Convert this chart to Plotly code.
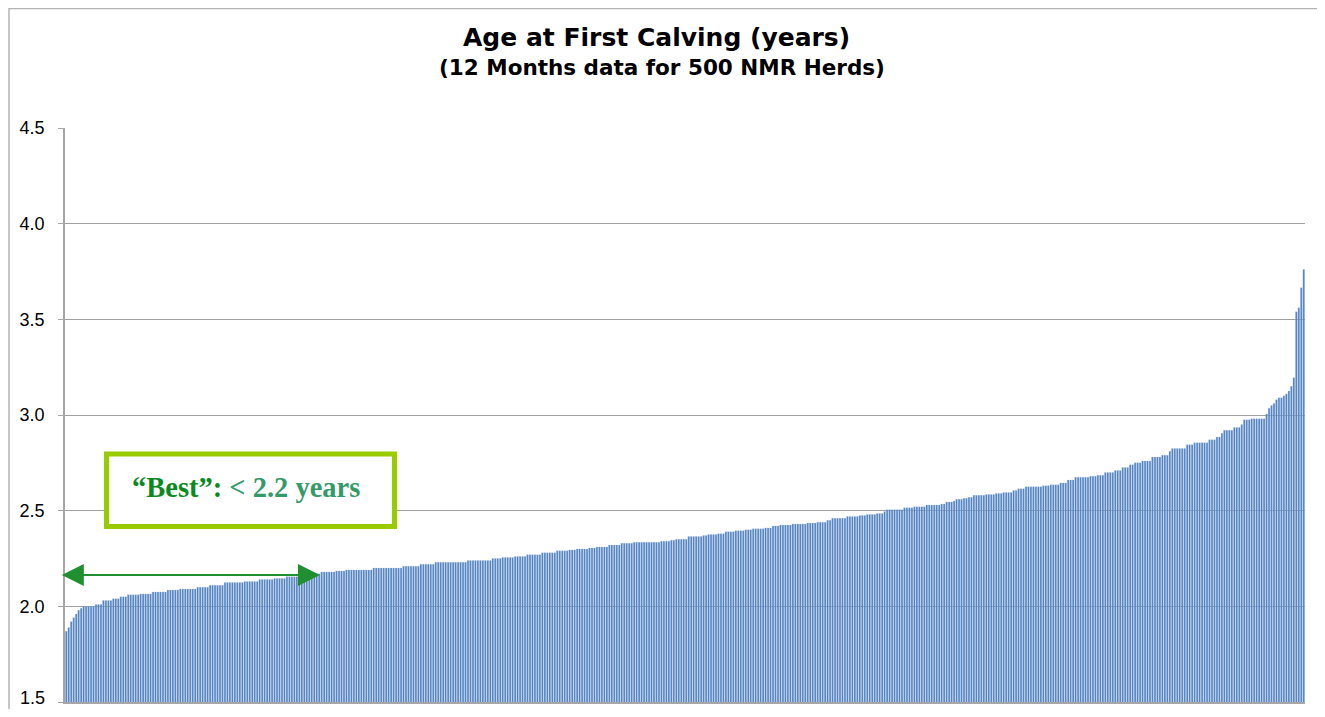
import plotly.graph_objects as go

# Age at first calving (years), 500 NMR herds, sorted ascending
ages = [
    1.87, 1.89, 1.92, 1.94, 1.96, 1.98, 1.99, 2.00, 2.00, 2.00,
    2.00, 2.00, 2.01, 2.01, 2.01, 2.03, 2.03, 2.03, 2.03, 2.04,
    2.04, 2.04, 2.05, 2.05, 2.05, 2.06, 2.06, 2.06, 2.06, 2.06,
    2.065, 2.065, 2.065, 2.065, 2.065, 2.075, 2.075, 2.075, 2.075, 2.075,
    2.075, 2.085, 2.085, 2.085, 2.085, 2.085, 2.09, 2.09, 2.09, 2.09,
    2.09, 2.09, 2.09, 2.10, 2.10, 2.10, 2.10, 2.10, 2.11, 2.11,
    2.11, 2.11, 2.11, 2.11, 2.125, 2.125, 2.125, 2.125, 2.125, 2.125,
    2.125, 2.125, 2.13, 2.13, 2.13, 2.13, 2.13, 2.13, 2.14, 2.14,
    2.14, 2.14, 2.14, 2.14, 2.145, 2.145, 2.145, 2.145, 2.145, 2.155,
    2.155, 2.155, 2.155, 2.155, 2.155, 2.155, 2.155, 2.155, 2.155, 2.17,
    2.17, 2.17, 2.17, 2.18, 2.18, 2.18, 2.18, 2.18, 2.18, 2.185,
    2.185, 2.185, 2.185, 2.19, 2.19, 2.19, 2.19, 2.19, 2.19, 2.19,
    2.19, 2.19, 2.19, 2.19, 2.20, 2.20, 2.20, 2.20, 2.20, 2.20,
    2.20, 2.20, 2.20, 2.20, 2.20, 2.20, 2.21, 2.21, 2.21, 2.21,
    2.21, 2.21, 2.21, 2.22, 2.22, 2.22, 2.22, 2.22, 2.22, 2.23,
    2.23, 2.23, 2.23, 2.23, 2.23, 2.23, 2.23, 2.23, 2.23, 2.23,
    2.23, 2.23, 2.24, 2.24, 2.24, 2.24, 2.24, 2.24, 2.24, 2.24,
    2.24, 2.24, 2.25, 2.25, 2.25, 2.25, 2.255, 2.255, 2.255, 2.255,
    2.255, 2.26, 2.26, 2.26, 2.26, 2.26, 2.27, 2.27, 2.27, 2.27,
    2.27, 2.27, 2.28, 2.28, 2.28, 2.28, 2.28, 2.28, 2.29, 2.29,
    2.29, 2.29, 2.29, 2.295, 2.295, 2.295, 2.30, 2.30, 2.30, 2.30,
    2.30, 2.305, 2.305, 2.305, 2.31, 2.31, 2.31, 2.31, 2.31, 2.32,
    2.32, 2.32, 2.32, 2.32, 2.33, 2.33, 2.33, 2.33, 2.33, 2.335,
    2.335, 2.335, 2.335, 2.335, 2.335, 2.335, 2.335, 2.335, 2.335, 2.335,
    2.34, 2.34, 2.34, 2.34, 2.345, 2.345, 2.35, 2.35, 2.35, 2.35,
    2.35, 2.365, 2.365, 2.365, 2.365, 2.365, 2.365, 2.37, 2.37, 2.375,
    2.375, 2.375, 2.375, 2.38, 2.38, 2.38, 2.39, 2.39, 2.39, 2.39,
    2.395, 2.395, 2.395, 2.395, 2.40, 2.40, 2.40, 2.405, 2.405, 2.405,
    2.405, 2.405, 2.41, 2.41, 2.41, 2.42, 2.42, 2.42, 2.425, 2.425,
    2.425, 2.425, 2.425, 2.43, 2.43, 2.43, 2.43, 2.43, 2.43, 2.435,
    2.435, 2.435, 2.435, 2.44, 2.44, 2.44, 2.44, 2.45, 2.45, 2.46,
    2.46, 2.46, 2.46, 2.46, 2.46, 2.47, 2.47, 2.47, 2.47, 2.47,
    2.475, 2.475, 2.475, 2.48, 2.48, 2.48, 2.48, 2.485, 2.485, 2.485,
    2.495, 2.505, 2.505, 2.505, 2.505, 2.505, 2.505, 2.505, 2.515, 2.515,
    2.515, 2.515, 2.52, 2.52, 2.52, 2.52, 2.52, 2.53, 2.53, 2.53,
    2.53, 2.53, 2.53, 2.535, 2.535, 2.545, 2.545, 2.545, 2.55, 2.56,
    2.56, 2.56, 2.565, 2.565, 2.57, 2.57, 2.58, 2.58, 2.58, 2.58,
    2.58, 2.585, 2.585, 2.585, 2.585, 2.59, 2.59, 2.59, 2.595, 2.595,
    2.595, 2.595, 2.605, 2.605, 2.615, 2.615, 2.615, 2.625, 2.625, 2.625,
    2.625, 2.625, 2.625, 2.625, 2.63, 2.63, 2.63, 2.635, 2.635, 2.635,
    2.635, 2.645, 2.645, 2.645, 2.66, 2.66, 2.66, 2.675, 2.675, 2.675,
    2.675, 2.675, 2.675, 2.68, 2.68, 2.68, 2.685, 2.685, 2.685, 2.70,
    2.70, 2.70, 2.70, 2.71, 2.71, 2.71, 2.725, 2.725, 2.725, 2.74,
    2.74, 2.75, 2.75, 2.75, 2.76, 2.76, 2.76, 2.76, 2.78, 2.78,
    2.78, 2.78, 2.79, 2.79, 2.79, 2.81, 2.825, 2.825, 2.825, 2.825,
    2.825, 2.825, 2.845, 2.845, 2.845, 2.855, 2.855, 2.855, 2.855, 2.855,
    2.855, 2.87, 2.87, 2.87, 2.885, 2.885, 2.905, 2.92, 2.92, 2.92,
    2.92, 2.935, 2.935, 2.935, 2.95, 2.975, 2.975, 2.975, 2.98, 2.98,
    2.98, 2.98, 2.98, 2.98, 3.005, 3.035, 3.05, 3.06, 3.08, 3.09,
    3.09, 3.10, 3.11, 3.125, 3.15, 3.195, 3.54, 3.56, 3.665, 3.76,
]
herds = list(range(len(ages)))

y_ticks = [1.5, 2.0, 2.5, 3.0, 3.5, 4.0, 4.5]
y_tick_text = ["1.5", "2.0", "2.5", "3.0", "3.5", "4.0", "4.5"]
title_line1 = "Age at First Calving (years)"
title_line2 = "(12 Months data for 500 NMR Herds)"
best_label = "“Best”:"
best_value = "< 2.2 years"
best_threshold_pos = 102.3   # bar position where the "best" arrow ends
best_arrow_y = 2.164

# page body has an 8px margin on every side; keep the page inside the window
OFF = 8
W, H = 1325 - 2 * OFF, 717 - 2 * OFF
TICKFONT = dict(family="Liberation Sans, Arial", size=18, color="black")

fig = go.Figure()
fig.add_trace(go.Bar(
    x=herds, y=ages, base=0,
    marker=dict(color="#4F80C0", line=dict(color="#A9C2E4", width=0.3)),
    hoverinfo="y", showlegend=False,
))

PW, PH = 1240.0, 574.0
fig.update_layout(
    width=W, height=H,
    margin=dict(l=65 - OFF, r=OFF + W - 1305, t=128 - OFF, b=OFF + H - 702, pad=0,
                autoexpand=False),
    paper_bgcolor="white", plot_bgcolor="white",
    bargap=0.3,
    xaxis=dict(range=[-0.5, len(ages) - 0.5], showticklabels=False, ticks="",
               showgrid=False, zeroline=False, showline=True, automargin=False,
               linecolor="#A6A6A6", linewidth=2),
    # the lowest label sits at the very bottom edge of the page, so it is drawn
    # separately below, nudged a few pixels up to stay fully visible
    yaxis=dict(range=[1.5, 4.5], tickvals=y_ticks,
               ticktext=[""] + y_tick_text[1:],
               showgrid=True, gridcolor="#A0A0A0", gridwidth=1.2, automargin=False,
               zeroline=False, showline=True, linecolor="#A6A6A6", linewidth=1.5,
               ticks="outside", ticklen=5, tickcolor="#A6A6A6",
               ticklabelstandoff=10, tickfont=TICKFONT),
    font=dict(family="Liberation Sans, Arial"),
)

fig.add_annotation(text=y_tick_text[0], xref="paper", yref="y",
                   x=(47 - 65) / PW, y=y_ticks[0], yshift=4, showarrow=False,
                   xanchor="right", yanchor="middle", font=TICKFONT)

# outer chart frame (right edge lies beyond the visible window)
fig.add_shape(type="rect", xref="paper", yref="paper",
              x0=(9 - 65) / PW, x1=(1340 - 65) / PW,
              y0=-0.1, y1=1 + (128 - 8.5) / PH,
              line=dict(color="#B4B4B4", width=1.5), fillcolor="rgba(0,0,0,0)",
              layer="below")

# titles
fig.add_annotation(text="<b>" + title_line1 + "</b>", xref="paper", yref="paper",
                   x=(656 - 65) / PW, y=1 + (128 - 38) / PH, showarrow=False,
                   xanchor="center", yanchor="middle",
                   font=dict(family="DejaVu Sans", size=25, color="black"))
fig.add_annotation(text="<b>" + title_line2 + "</b>", xref="paper", yref="paper",
                   x=(662 - 65) / PW, y=1 + (128 - 67) / PH, showarrow=False,
                   xanchor="center", yanchor="middle",
                   font=dict(family="DejaVu Sans", size=21.5, color="black"))

# "Best" box
fig.add_shape(type="rect", xref="paper", yref="y",
              x0=(106.5 - 65) / PW, x1=(394.5 - 65) / PW,
              y0=1.5 + (702 - 526.5) / 191.33, y1=1.5 + (702 - 454) / 191.33,
              line=dict(color="#99CC00", width=5), fillcolor="white", layer="above")
fig.add_annotation(
    text="<b><span style='color:#0A8A1E'>" + best_label + "</span> "
         "<span style='color:#359A6A'>" + best_value.replace("<", "&lt;") + "</span></b>",
    xref="paper", yref="y", x=(246 - 65) / PW, y=1.5 + (702 - 487) / 191.33,
    showarrow=False, xanchor="center", yanchor="middle",
    font=dict(family="Liberation Serif, Times New Roman", size=28.5))

# double-headed arrow
fig.add_annotation(x=best_threshold_pos, y=best_arrow_y, ax=-2.4, ay=best_arrow_y,
                   xref="x", yref="y", axref="x", ayref="y", text="",
                   showarrow=True, arrowside="end+start",
                   arrowhead=2, startarrowhead=2, arrowsize=2.2, startarrowsize=2.2,
                   arrowwidth=2, arrowcolor="#1F8F2F")

fig.write_html("out.html")
